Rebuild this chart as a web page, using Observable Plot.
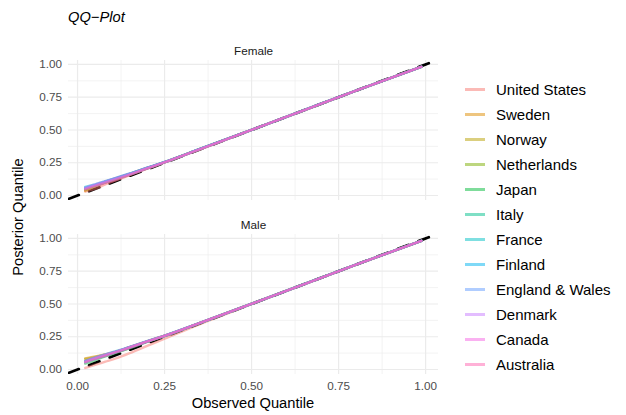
<!DOCTYPE html>
<html><head><meta charset="utf-8">
<script src="https://cdn.jsdelivr.net/npm/d3@7"></script>
<script src="https://cdn.jsdelivr.net/npm/@observablehq/plot@0.6"></script>
<style>
body{margin:0;background:#fff;font-family:"Liberation Sans",Arial,Helvetica,sans-serif;}
#wrap{position:relative;width:626px;height:415px;overflow:hidden;}
#title{position:absolute;left:68px;top:8px;font-size:14.7px;font-style:italic;line-height:18px;color:#000;}
#chart{position:absolute;left:0;top:30px;}
#legend{position:absolute;left:465px;top:77px;}
.row{display:flex;align-items:center;height:25px;}
.key{width:20px;height:3px;margin-right:11px;}
.lab{font-size:15px;color:#000;white-space:nowrap;}
</style></head><body>
<div id="wrap"><div id="title">QQ−Plot</div><div id="chart"></div><div id="legend"></div></div>
<script>
const countries = ["United States","Sweden","Norway","Netherlands","Japan","Italy","France","Finland","England & Wales","Denmark","Canada","Australia"];
const colors = ["#F8766D","#DE8C00","#B79F00","#7CAE00","#00BA38","#00C08B","#00BFC4","#00B4F0","#619CFF","#C77CFF","#F564E3","#FF64B0"];
const sexes = ["Female","Male"];
const observedQ = [0.022,0.05,0.08,0.11,0.15,0.2,0.25,0.35,0.5,0.65,0.8,0.988];
const majorTicks = [0,0.25,0.5,0.75,1];
const minorTicks = [0.125,0.375,0.625,0.875];
const xDomain = [-0.026,1.037];
const yDomain = [-0.038,1.03];

const femalePosterior = [
  [0.030,0.050,0.085,0.115,0.155,0.205,0.252,0.351,0.500,0.650,0.800,0.982],
  [0.035,0.070,0.100,0.130,0.165,0.210,0.255,0.353,0.501,0.651,0.800,0.983],
  [0.040,0.075,0.105,0.130,0.165,0.210,0.255,0.353,0.501,0.650,0.800,0.982],
  [0.045,0.070,0.100,0.125,0.160,0.208,0.254,0.352,0.501,0.650,0.800,0.982],
  [0.050,0.075,0.100,0.125,0.160,0.207,0.253,0.352,0.500,0.650,0.800,0.983],
  [0.055,0.080,0.105,0.130,0.165,0.210,0.255,0.353,0.501,0.651,0.800,0.982],
  [0.065,0.085,0.110,0.135,0.168,0.212,0.256,0.353,0.501,0.651,0.801,0.983],
  [0.060,0.080,0.105,0.130,0.165,0.210,0.255,0.353,0.501,0.650,0.800,0.982],
  [0.055,0.080,0.105,0.130,0.163,0.208,0.254,0.352,0.501,0.650,0.800,0.982],
  [0.060,0.085,0.110,0.135,0.168,0.212,0.256,0.353,0.501,0.651,0.801,0.983],
  [0.050,0.075,0.100,0.125,0.160,0.207,0.253,0.352,0.500,0.650,0.800,0.982],
  [0.045,0.070,0.095,0.120,0.157,0.205,0.252,0.351,0.500,0.650,0.800,0.982]
];
const malePosterior = [
  [0.012,0.035,0.060,0.085,0.125,0.180,0.235,0.345,0.498,0.649,0.799,0.981],
  [0.085,0.100,0.115,0.135,0.170,0.215,0.258,0.354,0.502,0.651,0.801,0.982],
  [0.080,0.095,0.115,0.135,0.170,0.215,0.258,0.354,0.502,0.651,0.801,0.982],
  [0.065,0.085,0.105,0.130,0.165,0.212,0.256,0.353,0.501,0.650,0.800,0.982],
  [0.045,0.070,0.100,0.125,0.162,0.210,0.255,0.352,0.501,0.650,0.800,0.982],
  [0.060,0.085,0.110,0.135,0.170,0.214,0.257,0.353,0.501,0.651,0.800,0.982],
  [0.065,0.090,0.115,0.140,0.172,0.216,0.258,0.354,0.502,0.651,0.801,0.982],
  [0.060,0.085,0.110,0.135,0.170,0.214,0.257,0.353,0.501,0.650,0.800,0.982],
  [0.055,0.080,0.105,0.130,0.166,0.212,0.256,0.353,0.501,0.650,0.800,0.982],
  [0.065,0.090,0.115,0.138,0.172,0.216,0.258,0.354,0.502,0.651,0.801,0.982],
  [0.060,0.085,0.110,0.135,0.170,0.214,0.257,0.353,0.501,0.650,0.800,0.982],
  [0.055,0.080,0.105,0.130,0.166,0.212,0.256,0.353,0.501,0.650,0.800,0.982]
];

const rows = [];
[[sexes[0], femalePosterior],[sexes[1], malePosterior]].forEach(([sex, table]) => {
  countries.forEach((c, i) => {
    observedQ.forEach((q, j) => rows.push({sex, country: c, x: q, y: table[i][j]}));
  });
});

const fmt = d3.format(".2f");
const gridStroke = "#EBEBEB";
const chart = Plot.plot({
  width: 450, height: 385,
  marginLeft: 68, marginRight: 12, marginTop: 30, marginBottom: 40.5,
  style: {fontFamily: '"Liberation Sans", Arial, Helvetica, sans-serif', fontSize: "11.7px", color: "#4D4D4D", background: "transparent", overflow: "visible"},
  x: {domain: xDomain, ticks: majorTicks, tickFormat: fmt, tickSize: 0, tickPadding: 7, label: null},
  y: {domain: yDomain, ticks: majorTicks, tickFormat: fmt, tickSize: 0, tickPadding: 6.5, label: null},
  fy: {domain: sexes, axis: null, label: null, paddingInner: 0.198, paddingOuter: 0},
  color: {domain: countries, range: colors},
  marks: [
    Plot.gridX(minorTicks, {stroke: gridStroke, strokeOpacity: 1, strokeWidth: 0.6}),
    Plot.gridY(minorTicks, {stroke: gridStroke, strokeOpacity: 1, strokeWidth: 0.6}),
    Plot.gridX(majorTicks, {stroke: gridStroke, strokeOpacity: 1, strokeWidth: 1.2}),
    Plot.gridY(majorTicks, {stroke: gridStroke, strokeOpacity: 1, strokeWidth: 1.2}),
    Plot.line([xDomain[0], xDomain[1]], {x: d => d, y: d => d, stroke: "black", strokeWidth: 2.7, strokeDasharray: "11,11", clip: true}),
    Plot.line(rows, {x: "x", y: "y", z: "country", stroke: "country", fy: "sex", strokeOpacity: 0.5, strokeWidth: 2.4, curve: "monotone-x"}),
    Plot.text(sexes, {fy: d => d, text: d => d, frameAnchor: "top", dy: -13.5, fill: "#1A1A1A", fontSize: 11.7})
  ]
});
document.getElementById("chart").appendChild(chart);

const svg = d3.select(chart);
svg.append("text").attr("x", 253).attr("y", 373).attr("text-anchor", "middle").attr("dominant-baseline", "central")
  .attr("fill", "#000").attr("font-size", 14.7).text("Observed Quantile");
svg.append("text").attr("transform", "translate(18,187) rotate(-90)").attr("text-anchor", "middle").attr("dominant-baseline", "central")
  .attr("fill", "#000").attr("font-size", 14.7).text("Posterior Quantile");

const legend = d3.select("#legend");
countries.forEach((c, i) => {
  const r = legend.append("div").attr("class", "row");
  r.append("div").attr("class", "key").style("background", colors[i]).style("opacity", 0.5);
  r.append("div").attr("class", "lab").text(c);
});
</script>
</body></html>
